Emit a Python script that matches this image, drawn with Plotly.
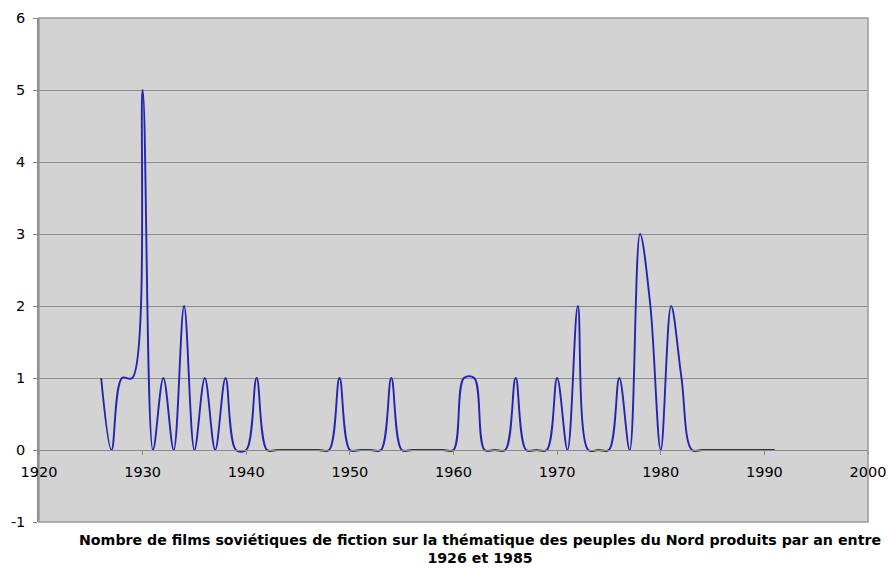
import plotly.graph_objects as go

years = list(range(1926, 1992))
films = [1, 0, 1, 1, 5, 0, 1, 0, 2, 0,   # 1926-1935
         1, 0, 1, 0, 0, 1, 0, 0, 0, 0,   # 1936-1945
         0, 0, 0, 1, 0, 0, 0, 0, 1, 0,   # 1946-1955
         0, 0, 0, 0, 0, 1, 1, 0, 0, 0,   # 1956-1965
         1, 0, 0, 0, 1, 0, 2, 0, 0, 0,   # 1966-1975
         1, 0, 3, 2, 0, 2, 1, 0, 0, 0,   # 1976-1985
         0, 0, 0, 0, 0, 0]               # 1986-1991

y_range = [-1, 6]
y_ticks = [-1, 0, 1, 2, 3, 4, 5, 6]
y_ticktext = ["-1", "0", "1", "2", "3", "4", "5", "6"]
x_range = [1920, 2000]
title_text = ("Nombre de films soviétiques de fiction sur la thématique des peuples du Nord produits par an entre"
              "<br>1926 et 1985")

W, H = 888, 568
ML, MR, MT, MB = 39, 20, 18, 46
plot_h = H - MT - MB

fig = go.Figure()
fig.add_trace(go.Scatter(
    x=years, y=films, mode="lines",
    line=dict(color="#2424b0", width=1.9, shape="spline", smoothing=1.0),
    hoverinfo="x+y", showlegend=False,
))

font_family = "DejaVu Sans, Verdana, sans-serif"

fig.update_layout(
    width=W, height=H,
    margin=dict(l=ML, r=MR, t=MT, b=MB, autoexpand=False),
    paper_bgcolor="white",
    plot_bgcolor="#d3d3d3",
    font=dict(family=font_family, size=13, color="black"),
    xaxis=dict(
        range=x_range, dtick=10, tick0=1920,
        showgrid=False, zeroline=False, automargin=False,
        anchor="free",
        position=(0 - y_range[0]) / (y_range[1] - y_range[0]),
        showline=True, linecolor="#8a8a8a", linewidth=1,
        ticks="outside", ticklen=4, tickcolor="#8a8a8a",
        ticklabelstandoff=5,
        tickfont=dict(family=font_family, size=14.5, color="black"),
    ),
    yaxis=dict(
        range=y_range, tickvals=y_ticks, ticktext=y_ticktext,
        showgrid=True, gridcolor="#8c8c8c", gridwidth=1,
        zeroline=False, automargin=False,
        showline=True, linecolor="#8a8a8a", linewidth=1.5,
        ticks="outside", ticklen=4, tickcolor="#8a8a8a",
        ticklabelstandoff=5,
        tickfont=dict(family=font_family, size=14.5, color="black"),
    ),
    shapes=[dict(type="rect", xref="paper", yref="paper", x0=0, x1=1, y0=0, y1=1,
                 line=dict(color="#9a9a9a", width=1.5), layer="above")],
    annotations=[dict(
        text="<b>" + title_text + "</b>",
        xref="paper", yref="paper", x=(480 - ML) / (W - ML - MR),
        y=-(H - 1 - MT - plot_h) / plot_h,
        xanchor="center", yanchor="bottom",
        showarrow=False, align="center", borderpad=0,
        font=dict(family=font_family, size=14.2, color="black"),
    )],
)

fig.write_html("out.html",
               config={"displayModeBar": False},
               post_script="document.body.style.margin='0';document.body.style.overflow='hidden';")
